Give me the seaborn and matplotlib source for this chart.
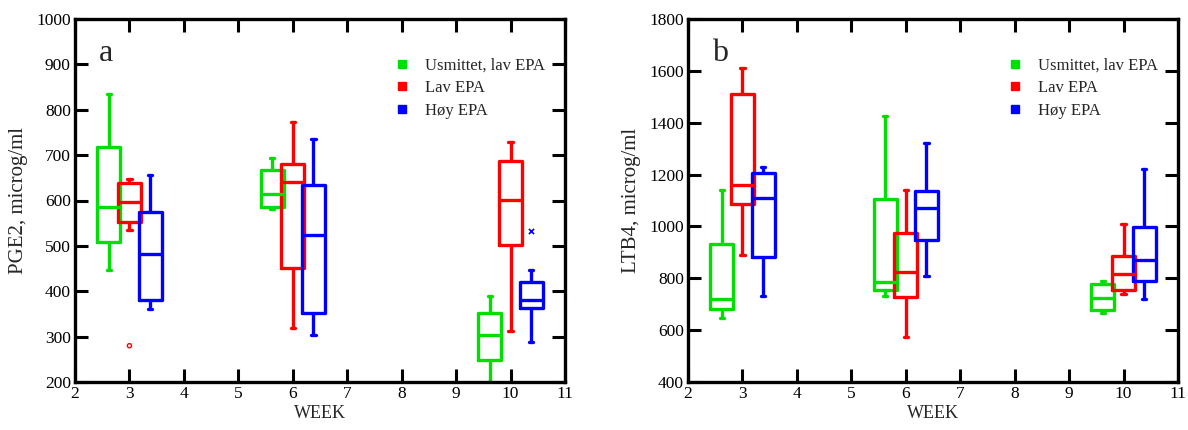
import numpy as np
import pandas as pd
import matplotlib
matplotlib.use("Agg")
import matplotlib.pyplot as plt
from matplotlib.lines import Line2D
import seaborn as sns

# ---------------- data ----------------
weeks = [3, 6, 10]
groups = ["Usmittet, lav EPA", "Lav EPA", "Høy EPA"]
colors = ["#00E000", "#FF0000", "#0000FF"]

# five-number summaries per week: [low whisker, Q1, median, Q3, high whisker]
pge2_usmittet = [[446, 508, 586, 717, 834], [582, 586, 614, 667, 693], [201, 249, 303, 351, 389]]
pge2_lav = [[535, 553, 597, 639, 648], [320, 451, 641, 681, 772], [312, 503, 602, 686, 730]]
pge2_hoy = [[361, 381, 483, 575, 656], [303, 351, 525, 634, 735], [288, 362, 381, 421, 447]]
pge2_outlier_lav_week = [3]
pge2_outlier_lav_value = [280]
pge2_outlier_hoy_week = [10]
pge2_outlier_hoy_value = [532]

ltb4_usmittet = [[647, 683, 721, 933, 1140], [732, 754, 784, 1105, 1424], [666, 677, 725, 777, 788]]
ltb4_lav = [[888, 1088, 1160, 1511, 1610], [574, 729, 825, 974, 1140], [739, 754, 816, 887, 1008]]
ltb4_hoy = [[730, 882, 1111, 1207, 1231], [807, 948, 1071, 1136, 1321], [722, 791, 871, 997, 1221]]

x_ticks = [2, 3, 4, 5, 6, 7, 8, 9, 10, 11]
pge2_ticks = [200, 300, 400, 500, 600, 700, 800, 900, 1000]
ltb4_ticks = [400, 600, 800, 1000, 1200, 1400, 1600, 1800]

# ---------------- style ----------------
sns.set_theme(style="white")
plt.rcParams.update({
    "font.family": ["Liberation Serif", "DejaVu Serif"],
    "axes.linewidth": 2.4,
    "axes.edgecolor": "black",
    "xtick.bottom": True, "xtick.top": True,
    "ytick.left": True, "ytick.right": True,
    "xtick.direction": "in", "ytick.direction": "in",
    "xtick.major.size": 9.5, "ytick.major.size": 9.5,
    "xtick.major.width": 2.2, "ytick.major.width": 2.2,
    "xtick.color": "black", "ytick.color": "black",
    "xtick.labelsize": 12.5, "ytick.labelsize": 12.5,
    "xtick.major.pad": 3, "ytick.major.pad": 3,
    "xtick.minor.visible": False, "ytick.minor.visible": False,
})

DODGE = 0.38
BOX_W = 0.42
palette = dict(zip(groups, colors))


def make_frame(series_list):
    rows = []
    for gi, (g, series) in enumerate(zip(groups, series_list)):
        for w, stats in zip(weeks, series):
            for v in stats:
                rows.append({"x": w + (gi - 1) * DODGE, "value": v, "group": g})
    return pd.DataFrame(rows)


fig = plt.figure(figsize=(11.88, 4.30), dpi=100)
W, H = 1188, 430
ax_a = fig.add_axes([75 / W, (H - 382) / H, 490 / W, 363 / H])
ax_b = fig.add_axes([688 / W, (H - 382) / H, 490 / W, 363 / H])


def draw(ax, series_list, yticks, ylabel, letter):
    df = make_frame(series_list)
    sns.boxplot(data=df, x="x", y="value", hue="group", hue_order=groups,
                palette=palette, native_scale=True, dodge=False, fill=False,
                whis=(0, 100), width=BOX_W / DODGE, linewidth=2.4,
                capwidths=0.08, showfliers=False, legend=False, ax=ax)
    ax.set_xlim(2, 11)
    ax.set_ylim(yticks[0], yticks[-1])
    ax.set_xlabel("WEEK", fontsize=13, labelpad=2)
    ax.set_ylabel(ylabel, fontsize=15, labelpad=6)
    ax.text(24 / 490, 1 - 42 / 363, letter, transform=ax.transAxes,
            fontsize=23, va="baseline", ha="left")
    handles = [Line2D([], [], linestyle="none", marker="s", markersize=5.5,
                      markerfacecolor=c, markeredgecolor=c) for c in colors]
    ax.legend(handles, groups, loc="upper left", bbox_to_anchor=(0.653, 0.893),
              frameon=False, fontsize=12, handlelength=0.8, handletextpad=1.0,
              labelspacing=0.38, borderpad=0, borderaxespad=0)


def finish(ax, yticks):
    ax.set_xticks(x_ticks)
    ax.set_yticks(yticks)
    ax.tick_params(direction="in", length=9.5, width=2.2, top=True, right=True,
                   bottom=True, left=True, labelsize=12.5, colors="black", pad=3)
    for s in ax.spines.values():
        s.set_visible(True)
        s.set_color("black")
        s.set_linewidth(2.4)


draw(ax_a, [pge2_usmittet, pge2_lav, pge2_hoy], pge2_ticks, "PGE2, microg/ml", "a")
sns.scatterplot(x=pge2_outlier_lav_week, y=pge2_outlier_lav_value, marker="o", s=9,
                facecolor="none", edgecolor=colors[1], linewidth=1.0, ax=ax_a)
sns.scatterplot(x=[w + DODGE for w in pge2_outlier_hoy_week], y=pge2_outlier_hoy_value,
                marker="x", s=14, color=colors[2], linewidth=1.2, ax=ax_a)
draw(ax_b, [ltb4_usmittet, ltb4_lav, ltb4_hoy], ltb4_ticks, "LTB4, microg/ml", "b")

finish(ax_a, pge2_ticks)
finish(ax_b, ltb4_ticks)

fig.savefig("out.png", dpi=100, facecolor="white")
